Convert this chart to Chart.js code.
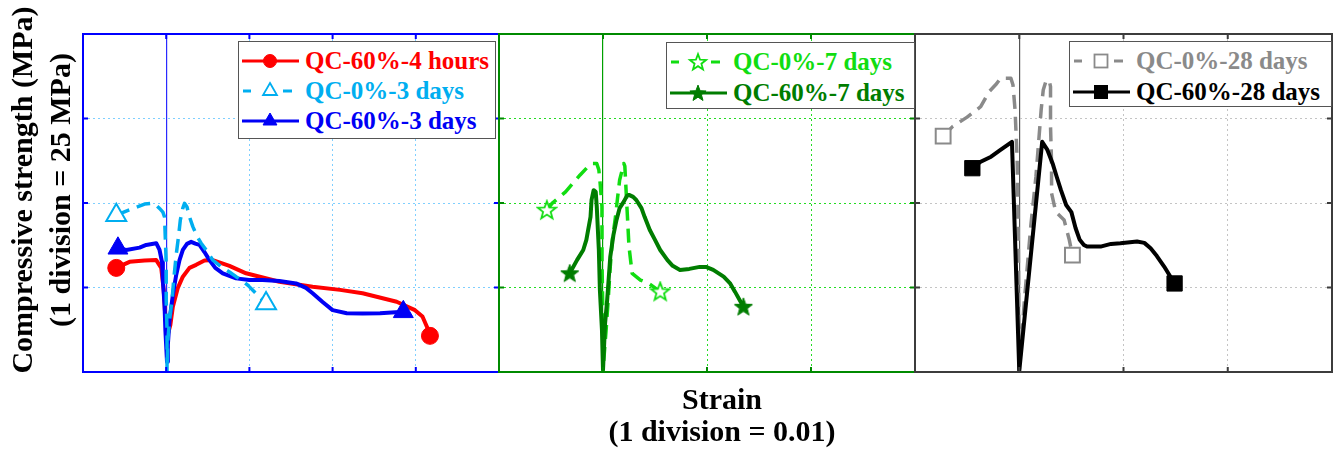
<!DOCTYPE html>
<html>
<head>
<meta charset="utf-8">
<script src="https://cdn.jsdelivr.net/npm/chart.js@4.4.1/dist/chart.umd.min.js"></script>
<style>
html,body{margin:0;padding:0;background:#fff;overflow:hidden;}
#wrap{position:relative;width:1338px;height:452px;font-family:"Liberation Serif","Times New Roman",serif;font-weight:bold;}
#wrap canvas{position:absolute;}
.ytitle{position:absolute;left:-179px;top:152px;width:440px;height:76px;line-height:38px;font-size:30px;text-align:center;white-space:nowrap;transform:rotate(-90deg);transform-origin:50% 50%;color:#000;}
.xtitle{position:absolute;left:522px;top:383px;width:400px;line-height:32px;font-size:30px;text-align:center;white-space:nowrap;color:#000;}
.legend{position:absolute;background:#fff;border:1px solid #555;box-sizing:border-box;}
.legend .row{position:absolute;left:0;height:30px;width:100%;}
.legend svg{position:absolute;left:2px;top:0;}
.legend span{position:absolute;left:66px;top:0;line-height:30px;font-size:25px;white-space:nowrap;}
</style>
</head>
<body>
<div id="wrap">
  <canvas id="c1" width="434" height="366" style="left:69px;top:20px"></canvas>
  <canvas id="c2" width="434" height="366" style="left:485px;top:20px"></canvas>
  <canvas id="c3" width="435" height="366" style="left:901px;top:20px"></canvas>
  <div class="ytitle">Compressive strength (MPa)<br>(1 division = 25 MPa)</div>
  <div class="xtitle">Strain<br>(1 division = 0.01)</div>
</div>
<script>
// ---------- Axis ticks (strain, stress in MPa) ----------
const strainTicksP1 = [-0.01, 0, 0.01, 0.02, 0.03, 0.04];
const strainTicksP23 = [-0.01, 0, 0.01, 0.02, 0.03];
const stressTicks = [0, 25, 50, 75, 100];

// ---------- Series labels ----------
const labelsP1 = ["QC-60%-4 hours", "QC-0%-3 days", "QC-60%-3 days"];
const labelsP2 = ["QC-0%-7 days", "QC-60%-7 days"];
const labelsP3 = ["QC-0%-28 days", "QC-60%-28 days"];

// ---------- Panel 1 ----------
const strain_QC60_4h = [-0.0060,-0.0044,-0.0026,-0.0012,-0.0006,-0.0003,-0.0001,0.0002,0.0005,0.0008,0.0014,0.0020,0.0028,0.0036,0.0046,0.0056,0.0076,0.0096,0.0136,0.0176,0.0209,0.0236,0.0277,0.0299,0.0308,0.0314,0.0317];
const stress_QC60_4h = [30.8,32.6,33.0,33.1,30.8,24.3,16.0,11.2,13.9,19.3,24.9,28.2,30.8,31.7,33.0,33.1,31.4,29.2,26.7,25.2,24.3,23.3,20.8,18.3,16.4,13.0,10.7];

const strain_QC0_3d = [-0.0060,-0.0048,-0.0034,-0.0026,-0.0018,-0.0013,-0.0008,-0.0004,-0.0002,-0.0001,0.0000,0.0000,0.0001,0.0001,0.0002,0.0004,0.0007,0.0009,0.0012,0.0015,0.0017,0.0020,0.0022,0.0025,0.0028,0.0032,0.0037,0.0042,0.0048,0.0056,0.0068,0.0076,0.0084,0.0092,0.0098,0.0120];
const stress_QC0_3d = [46.4,47.6,48.9,49.7,49.9,49.6,48.4,47.3,45.9,39.1,32.2,21.3,12.4,0.3,9.5,15.4,21.3,27.2,34.6,40.5,45.0,48.5,49.9,48.8,45.9,43.0,40.2,38.1,36.1,33.1,30.8,29.6,28.2,26.9,25.7,20.3];

const strain_QC60_3d = [-0.0058,-0.0048,-0.0032,-0.0024,-0.0012,-0.0008,-0.0005,-0.0004,-0.0002,-0.0001,0.0001,0.0002,0.0004,0.0008,0.0012,0.0016,0.0020,0.0025,0.0030,0.0035,0.0040,0.0046,0.0052,0.0059,0.0068,0.0084,0.0100,0.0116,0.0136,0.0156,0.0168,0.0176,0.0188,0.0200,0.0217,0.0236,0.0257,0.0271,0.0285];
const stress_QC60_3d = [36.6,36.1,36.8,37.6,38.1,36.1,32.5,27.2,19.8,12.4,3.0,8.0,15.4,22.8,28.7,33.1,36.1,37.9,38.5,38.0,37.6,35.5,33.1,30.8,29.2,27.7,27.2,27.2,26.9,26.2,24.9,23.3,20.7,18.3,17.4,17.3,17.4,17.6,17.8];

// ---------- Panel 2 ----------
const strain_QC0_7d = [-0.0054,-0.0049,-0.0036,-0.0022,-0.0014,-0.0010,-0.0006,-0.0004,-0.0003,-0.0001,-0.0001,0.0000,0.0000,0.0003,0.0005,0.0007,0.0009,0.0012,0.0014,0.0016,0.0020,0.0021,0.0023,0.0025,0.0028,0.0036,0.0044,0.0055];
const stress_QC0_7d = [47.9,49.9,53.3,58.3,60.9,61.7,61.7,59.8,56.8,48.9,33.1,15.4,0.6,12.4,21.3,31.2,39.1,45.9,51.5,56.8,61.7,60.9,48.9,37.1,29.2,27.2,26.2,23.8];

const strain_QC60_7d = [-0.0032,-0.0025,-0.0019,-0.0016,-0.0012,-0.0011,-0.0009,-0.0007,-0.0006,-0.0004,-0.0003,-0.0001,0.0000,0.0002,0.0004,0.0007,0.0010,0.0013,0.0016,0.0020,0.0023,0.0025,0.0029,0.0032,0.0037,0.0040,0.0045,0.0050,0.0055,0.0062,0.0067,0.0074,0.0083,0.0093,0.0099,0.0106,0.0116,0.0122,0.0127,0.0135];
const stress_QC60_7d = [29.2,33.1,36.1,39.1,45.9,50.9,53.8,53.3,48.9,36.1,24.3,12.4,0.6,14.4,21.3,34.1,40.5,45.0,48.5,50.4,52.1,52.4,51.8,50.9,48.5,45.9,42.0,39.1,36.1,33.1,31.4,30.2,30.5,31.1,31.1,30.2,28.2,26.3,23.7,19.3];

// ---------- Panel 3 ----------
const strain_QC0_28d = [-0.0073,-0.0064,-0.0050,-0.0037,-0.0029,-0.0022,-0.0018,-0.0008,-0.0006,-0.0004,-0.0002,-0.0001,0.0000,0.0005,0.0011,0.0016,0.0021,0.0023,0.0026,0.0029,0.0030,0.0030,0.0031,0.0031,0.0035,0.0043,0.0048,0.0051];
const stress_QC0_28d = [69.8,72.6,75.4,78.5,82.9,85.2,86.9,86.9,84.9,77.5,62.7,42.0,0.6,21.3,43.0,57.8,77.5,83.4,86.4,85.8,84.4,72.6,61.7,52.9,47.4,45.0,39.1,34.6];

const strain_QC60_28d = [-0.0045,-0.0037,-0.0027,-0.0018,-0.0007,0.0000,0.0022,0.0027,0.0032,0.0036,0.0040,0.0045,0.0050,0.0054,0.0058,0.0062,0.0065,0.0078,0.0088,0.0097,0.0113,0.0120,0.0126,0.0132,0.0139,0.0144,0.0149];
const stress_QC60_28d = [60.3,62.2,63.7,65.7,68.1,0.3,68.1,65.7,61.7,57.7,53.8,49.4,47.3,42.6,39.1,37.6,37.1,37.1,37.9,38.1,38.6,38.2,36.6,34.3,31.2,28.7,26.2];

// ---------- helpers ----------
function pts(xs, ys){ return xs.map((x,i)=>({x:x, y:ys[i]})); }

function starCanvas(size, color, filled){
  const c = document.createElement('canvas'); c.width = size; c.height = size;
  const g = c.getContext('2d');
  const cx = size/2, cy = size/2 + 0.6, R = size/2 - 1.5, r = R*0.42;
  g.beginPath();
  for (let i=0;i<10;i++){ const a = -Math.PI/2 + i*Math.PI/5; const rr = (i%2)? r : R; g.lineTo(cx+rr*Math.cos(a), cy+rr*Math.sin(a)); }
  g.closePath();
  g.fillStyle = filled ? color : '#fff'; g.fill();
  g.lineJoin = 'miter'; g.lineWidth = filled ? 1 : 1.8; g.strokeStyle = color; g.stroke();
  return c;
}

function mkDataset(label, xs, ys, st){
  const n = xs.length;
  return {
    label: label,
    data: pts(xs, ys),
    showLine: true,
    borderColor: st.color,
    borderWidth: st.width || 4,
    borderDash: st.dash || [],
    borderCapStyle: st.dash ? 'butt' : 'round',
    borderJoinStyle: 'round',
    tension: 0,
    fill: false,
    order: st.order,
    pointStyle: st.pointStyle,
    pointRadius: (ctx) => (ctx.dataIndex === 0 || ctx.dataIndex === n-1) ? st.radius : 0,
    pointHoverRadius: (ctx) => (ctx.dataIndex === 0 || ctx.dataIndex === n-1) ? st.radius : 0,
    pointBackgroundColor: st.filled ? st.color : '#ffffff',
    pointBorderColor: st.color,
    pointBorderWidth: st.filled ? 1 : 2,
    _legend: st
  };
}

const framePlugin = {
  id: 'panelFrame',
  afterDatasetsDraw(chart, args, opts){
    const {ctx, chartArea:a, scales} = chart;
    ctx.save();
    ctx.strokeStyle = opts.color; ctx.lineWidth = opts.width; ctx.setLineDash([]);
    const tl = 5;
    ctx.beginPath();
    scales.x.ticks.forEach(t => {
      const px = scales.x.getPixelForValue(t.value);
      if (px > a.left + 2 && px < a.right - 2){ ctx.moveTo(px, a.top); ctx.lineTo(px, a.top + tl); ctx.moveTo(px, a.bottom); ctx.lineTo(px, a.bottom - tl); }
    });
    scales.y.ticks.forEach(t => {
      const py = scales.y.getPixelForValue(t.value);
      if (py > a.top + 2 && py < a.bottom - 2){ ctx.moveTo(a.left, py); ctx.lineTo(a.left + tl, py); ctx.moveTo(a.right, py); ctx.lineTo(a.right - tl, py); }
    });
    ctx.stroke();
    ctx.strokeRect(a.left, a.top, a.right - a.left, a.bottom - a.top);
    ctx.restore();
  }
};

const isZero = (ctx) => ctx && ctx.tick && Math.abs(ctx.tick.value) < 1e-9;

function makeChart(id, datasets, xTicks, theme){
  const xmin = xTicks[0], xmax = xTicks[xTicks.length-1];
  return new Chart(document.getElementById(id), {
    type: 'scatter',
    data: { datasets: datasets },
    options: {
      responsive: false,
      animation: false,
      events: [],
      layout: { autoPadding: false, padding: { left: 14, right: 4, top: 14, bottom: 14 } },
      plugins: { legend: { display: false }, tooltip: { enabled: false }, title: { display: false },
                 panelFrame: { color: theme.frame, width: 2 } },
      scales: {
        x: {
          type: 'linear', min: xmin, max: xmax,
          afterBuildTicks: (s) => { s.ticks = xTicks.map(v => ({value: v})); },
          ticks: { display: false },
          grid: { drawTicks: false, color: (c) => isZero(c) ? theme.zero : theme.grid, lineWidth: (c) => isZero(c) ? 1.2 : 1 },
          border: { display: false, dash: (c) => isZero(c) ? [] : [2, 3] }
        },
        y: {
          type: 'linear', min: stressTicks[0], max: stressTicks[stressTicks.length-1],
          afterBuildTicks: (s) => { s.ticks = stressTicks.map(v => ({value: v})); },
          ticks: { display: false },
          grid: { drawTicks: false, color: theme.grid, lineWidth: 1 },
          border: { display: false, dash: [2, 3] }
        }
      }
    },
    plugins: [framePlugin]
  });
}

// ---------- styles ----------
const RED = '#ff0000', CYAN = '#00aef0', BLUE = '#0000f5', LGREEN = '#11dd11', DGREEN = '#007d00', GRAY = '#8a8a8a', BLACK = '#000000';

const st1 = [
  {color: RED,  pointStyle:'circle',   radius: 8.5, filled:true,  order:3, mk:'circle'},
  {color: CYAN, pointStyle:'triangle', radius: 11.5, filled:false, order:1, mk:'triangle', dash:[14,8], width:3.5},
  {color: BLUE, pointStyle:'triangle', radius: 11.5, filled:true,  order:2, mk:'triangle'}
];
const st2 = [
  {color: LGREEN, pointStyle: starCanvas(22, LGREEN, false), radius: 9, filled:false, order:2, mk:'star', dash:[14,8], width:3.5},
  {color: DGREEN, pointStyle: starCanvas(22, DGREEN, true),  radius: 9, filled:true,  order:1, mk:'star'}
];
const st3 = [
  {color: GRAY,  pointStyle:'rect', radius: 10.5, filled:false, order:2, mk:'rect', dash:[14,8], width:3.5},
  {color: BLACK, pointStyle:'rect', radius: 10.8, filled:true,  order:1, mk:'rect'}
];

const ds1 = [
  mkDataset(labelsP1[0], strain_QC60_4h, stress_QC60_4h, st1[0]),
  mkDataset(labelsP1[1], strain_QC0_3d, stress_QC0_3d, st1[1]),
  mkDataset(labelsP1[2], strain_QC60_3d, stress_QC60_3d, st1[2])
];
const ds2 = [
  mkDataset(labelsP2[0], strain_QC0_7d, stress_QC0_7d, st2[0]),
  mkDataset(labelsP2[1], strain_QC60_7d, stress_QC60_7d, st2[1])
];
const ds3 = [
  mkDataset(labelsP3[0], strain_QC0_28d, stress_QC0_28d, st3[0]),
  mkDataset(labelsP3[1], strain_QC60_28d, stress_QC60_28d, st3[1])
];

const ch1 = makeChart('c1', ds1, strainTicksP1, {frame:'#0000ff', grid:'#7fcfff', zero:'#2a2aff'});
const ch2 = makeChart('c2', ds2, strainTicksP23, {frame:'#008a00', grid:'#22dd22', zero:'#00a000'});
const ch3 = makeChart('c3', ds3, strainTicksP23, {frame:'#3c3c3c', grid:'#c4c4c4', zero:'#555555'});

// ---------- legends (HTML, generated from datasets) ----------
function markerSvg(st, cx, cy){
  const fill = st.filled ? st.color : '#fff';
  const sw = st.filled ? 1 : 1.8;
  if (st.mk === 'circle') return `<circle cx="${cx}" cy="${cy}" r="6.5" fill="${fill}" stroke="${st.color}" stroke-width="${sw}"/>`;
  if (st.mk === 'triangle'){ const r = 8; const p = [[cx, cy - r],[cx + r*0.866, cy + r*0.5],[cx - r*0.866, cy + r*0.5]]; return `<polygon points="${p.map(q=>q.join(',')).join(' ')}" fill="${fill}" stroke="${st.color}" stroke-width="${sw}"/>`; }
  if (st.mk === 'rect'){ const s = 13; return `<rect x="${cx - s/2}" y="${cy - s/2}" width="${s}" height="${s}" fill="${fill}" stroke="${st.color}" stroke-width="${sw}"/>`; }
  if (st.mk === 'star'){ const R = 8.5, r = R*0.42; const p = []; for (let i=0;i<10;i++){ const a = -Math.PI/2 + i*Math.PI/5; const rr = (i%2)? r : R; p.push([(cx + rr*Math.cos(a)).toFixed(2), (cy + 0.6 + rr*Math.sin(a)).toFixed(2)]); } return `<polygon points="${p.map(q=>q.join(',')).join(' ')}" fill="${fill}" stroke="${st.color}" stroke-width="${sw}"/>`; }
  return '';
}
function buildLegend(datasets, box){
  const div = document.createElement('div');
  div.className = 'legend';
  div.style.left = box.left + 'px'; div.style.top = box.top + 'px';
  div.style.width = box.width + 'px'; div.style.height = box.height + 'px';
  datasets.forEach((d, i) => {
    const st = d._legend;
    const row = document.createElement('div');
    row.className = 'row';
    row.style.top = (box.first + i*box.step - 15) + 'px';
    let lines;
    if (st.dash) lines = `<line x1="2" y1="15" x2="10" y2="15" stroke="${st.color}" stroke-width="3"/><line x1="42" y1="15" x2="51" y2="15" stroke="${st.color}" stroke-width="3"/>`;
    else lines = `<line x1="1" y1="15" x2="58" y2="15" stroke="${st.color}" stroke-width="3"/>`;
    row.innerHTML = `<svg width="60" height="30" viewBox="0 0 60 30">${lines}${markerSvg(st, 29, 15)}</svg><span style="color:${st.color}">${d.label}</span>`;
    div.appendChild(row);
  });
  document.getElementById('wrap').appendChild(div);
}
buildLegend(ds1, {left:238, top:41, width:258, height:98, first:19, step:30});
buildLegend(ds2, {left:666, top:42, width:249, height:67, first:19, step:31});
buildLegend(ds3, {left:1069, top:41, width:263, height:66, first:18.5, step:31.5});
</script>
</body>
</html>
